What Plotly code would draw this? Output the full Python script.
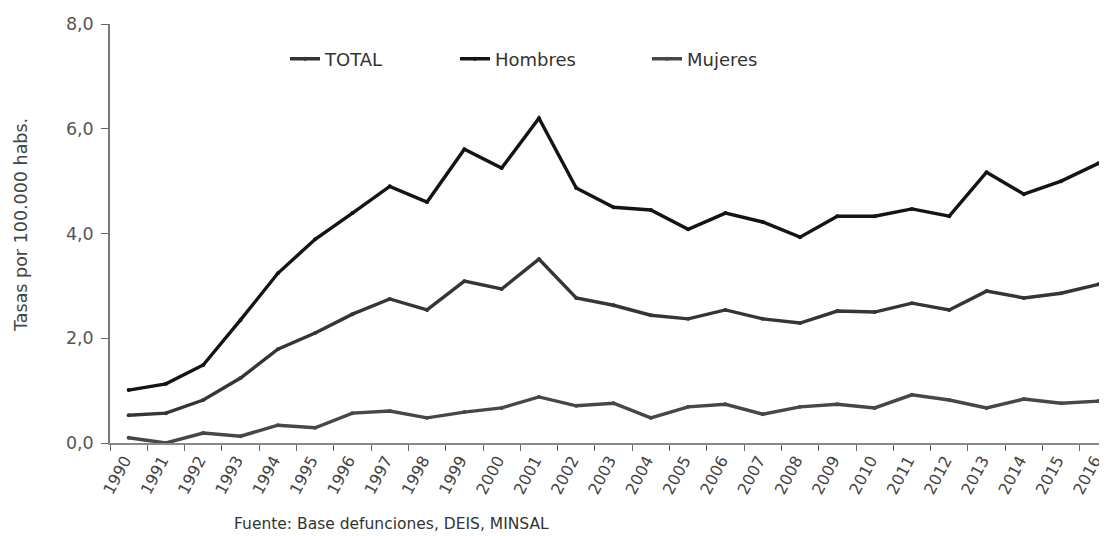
import plotly.graph_objects as go

years = list(range(1990, 2017))
total = [0.53, 0.57, 0.82, 1.24, 1.79, 2.10, 2.46, 2.75, 2.54, 3.09, 2.94, 3.51, 2.77, 2.63,
         2.44, 2.37, 2.54, 2.37, 2.29, 2.52, 2.50, 2.67, 2.54, 2.90, 2.77, 2.86, 3.03]
hombres = [1.01, 1.13, 1.49, 2.35, 3.24, 3.89, 4.39, 4.90, 4.60, 5.61, 5.25, 6.20, 4.87, 4.50,
           4.45, 4.08, 4.39, 4.22, 3.93, 4.33, 4.33, 4.47, 4.33, 5.17, 4.75, 5.00, 5.34]
mujeres = [0.10, 0.00, 0.19, 0.13, 0.34, 0.29, 0.57, 0.61, 0.48, 0.59, 0.67, 0.88, 0.71, 0.76,
           0.48, 0.69, 0.74, 0.55, 0.69, 0.74, 0.67, 0.92, 0.82, 0.67, 0.84, 0.76, 0.80]
series_names = ["TOTAL", "Hombres", "Mujeres"]
y_ticks = [0, 2, 4, 6, 8]
y_title = "Tasas por 100.000 habs."
source_note = "Fuente: Base defunciones, DEIS, MINSAL"

# page offset from default body margin
OFF = 8
W, H = 1107, 536
# desired plot area in page pixels
PL, PT, PB = 110, 24, 443
L = PL - OFF
T = PT - OFF
B = H - (PB - OFF)
R = 0
pw, ph = W - L - R, H - T - B

def px_x(p):
    return (p - OFF - L) / pw

def px_y(p):
    return 1 - (p - OFF - T) / ph

FONT = "DejaVu Sans"
colors = ["#353535", "#141414", "#474747"]
data = [total, hombres, mujeres]
legend_x = [285, 455, 647]
legend_y = 59

fig = go.Figure()
for i, (name, vals) in enumerate(zip(series_names, data)):
    lg = "legend" if i == 0 else f"legend{i+1}"
    fig.add_trace(go.Scatter(
        x=years, y=vals, name=name, mode="lines+markers",
        line=dict(color=colors[i], width=3.4),
        marker=dict(color=colors[i], size=4),
        legend=lg,
    ))

legend_common = dict(orientation="h", yanchor="middle", xanchor="left",
                     bgcolor="rgba(0,0,0,0)", font=dict(family=FONT, size=18, color="#333"),
                     itemwidth=30, tracegroupgap=0)
fig.update_layout(
    legend=dict(x=px_x(legend_x[0]), y=px_y(legend_y), **legend_common),
    legend2=dict(x=px_x(legend_x[1]), y=px_y(legend_y), **legend_common),
    legend3=dict(x=px_x(legend_x[2]), y=px_y(legend_y), **legend_common),
)

fig.update_layout(
    width=W, height=H,
    margin=dict(l=L, r=R, t=T, b=B, pad=0),
    paper_bgcolor="white", plot_bgcolor="white",
    separators=",.",
    font=dict(family=FONT, size=16, color="#444"),
    showlegend=True,
)
fig.update_xaxes(
    range=[1989.5, 1989.5 + pw / 37.3],
    tickvals=years, ticktext=[str(y) for y in years],
    tickangle=-62, ticks="", showgrid=False, zeroline=False,
    showline=True, linecolor="#8a8a8a", linewidth=1.5,
    tickfont=dict(family=FONT, size=16, color="#444"),
    ticklabelshift=-4,
    minor=dict(ticks="outside", ticklen=6, tickcolor="#666", tick0=1989.5, dtick=1, showgrid=False),
    automargin=False,
)
fig.update_yaxes(
    range=[0, 8], tickvals=y_ticks, tickformat=".1f",
    ticks="outside", ticklen=7, tickcolor="#666", showgrid=False, zeroline=False,
    showline=True, linecolor="#777", linewidth=1.5,
    tickfont=dict(family=FONT, size=17.5, color="#555"),
    ticklabelstandoff=4,
    automargin=False,
)
fig.add_annotation(text=y_title, textangle=-90, x=px_x(21), y=px_y(225),
                   xref="paper", yref="paper", showarrow=False,
                   font=dict(family=FONT, size=17.5, color="#444"),
                   xanchor="center", yanchor="middle")
fig.add_annotation(text=source_note, x=px_x(232), y=px_y(524),
                   xref="paper", yref="paper", showarrow=False,
                   font=dict(family=FONT, size=15.5, color="#333"),
                   xanchor="left", yanchor="middle")

fig.write_html("out.html")
